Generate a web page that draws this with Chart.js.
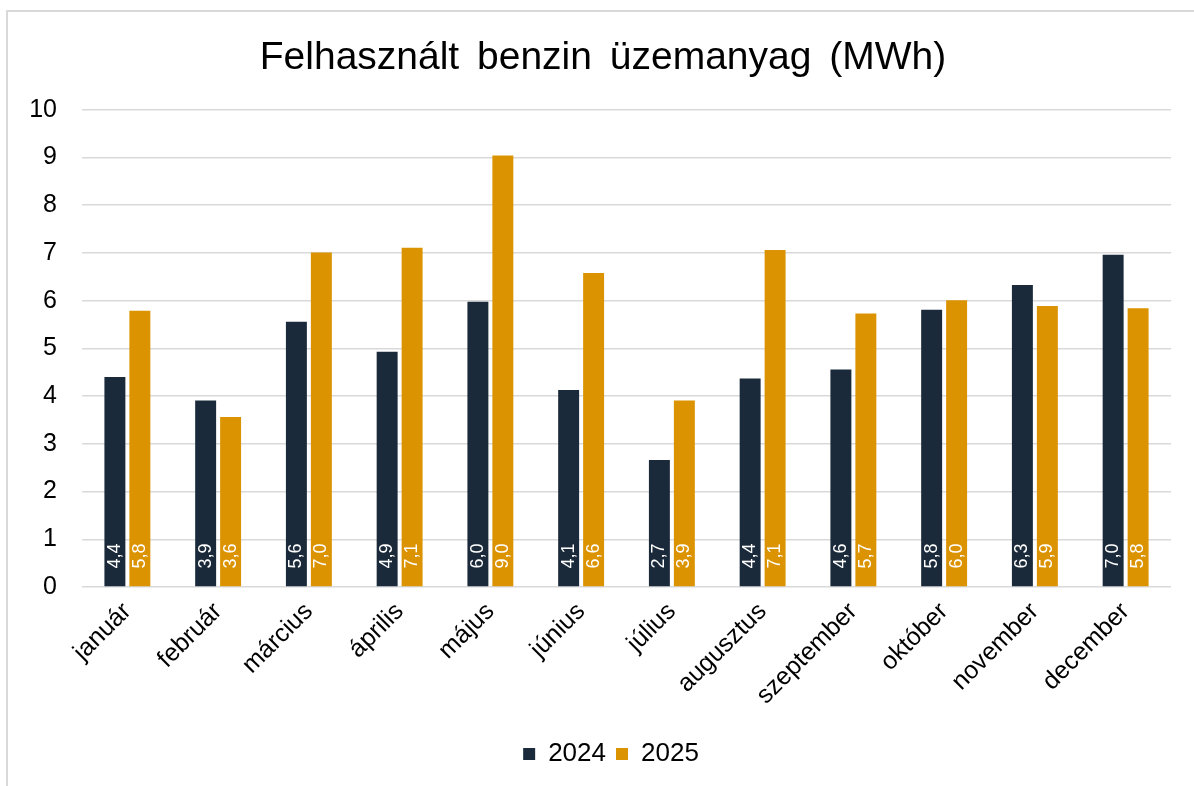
<!DOCTYPE html>
<html>
<head>
<meta charset="utf-8">
<script src="https://cdn.jsdelivr.net/npm/chart.js@4/dist/chart.umd.min.js"></script>
<style>
  html, body { margin: 0; padding: 0; background: #ffffff; }
  #wrap { position: relative; width: 1194px; height: 786px; }
</style>
</head>
<body>
<div id="wrap"><canvas id="c" width="1194" height="786"></canvas></div>
<script>
const chartTitle = 'Felhasznált benzin üzemanyag (MWh)';
const categories = ['január', 'február', 'március', 'április', 'május', 'június', 'július', 'augusztus', 'szeptember', 'október', 'november', 'december'];
const seriesNames = ['2024', '2025'];
const values2024 = [4.40, 3.91, 5.56, 4.93, 5.98, 4.13, 2.66, 4.37, 4.56, 5.81, 6.33, 6.96];
const values2025 = [5.79, 3.56, 7.01, 7.11, 9.04, 6.58, 3.91, 7.06, 5.73, 6.01, 5.89, 5.84];
const yMin = 0, yMax = 10, yStep = 1;

const FONT = '"Liberation Sans", Arial, sans-serif';
const COLORS = ['#1b2a3a', '#dc9302'];

const framePlugin = {
  id: 'frame',
  afterLayout(chart) {
    // centre title and legend like the original (slightly right of canvas centre)
    if (chart.titleBlock) chart.titleBlock.left += 25;
    if (chart.legend) chart.legend.left += 41;
  },
  beforeDraw(chart) {
    const ctx = chart.ctx;
    ctx.fillStyle = '#ffffff';
    ctx.fillRect(0, 0, chart.width, chart.height);
    ctx.save();
    ctx.strokeStyle = '#d9d9d9';
    ctx.lineWidth = 2;
    ctx.beginPath();
    ctx.moveTo(7, chart.height);
    ctx.lineTo(7, 11);
    ctx.lineTo(chart.width, 11);
    ctx.stroke();
    ctx.restore();
    // wider word gaps, as in the original title (only the title has spaces)
    if ('wordSpacing' in ctx) ctx.wordSpacing = '7px';
  }
};

const barLabelPlugin = {
  id: 'barLabels',
  afterDatasetsDraw(chart) {
    const ctx = chart.ctx;
    const yScale = chart.scales.y;
    const base = yScale.getPixelForValue(0);
    ctx.save();
    ctx.fillStyle = '#ffffff';
    ctx.font = '18px ' + FONT;
    ctx.textAlign = 'left';
    ctx.textBaseline = 'middle';
    chart.data.datasets.forEach((ds, di) => {
      const meta = chart.getDatasetMeta(di);
      meta.data.forEach((bar, i) => {
        const v = ds.data[i];
        const txt = v.toFixed(1).replace('.', ',');
        ctx.save();
        ctx.translate(bar.x, base - 18.5);
        ctx.rotate(-Math.PI / 2);
        ctx.fillText(txt, 0, 0);
        ctx.restore();
      });
    });
    ctx.restore();
  }
};

new Chart(document.getElementById('c'), {
  type: 'bar',
  data: {
    labels: categories,
    datasets: [
      { label: seriesNames[0], data: values2024, backgroundColor: COLORS[0], borderWidth: 0, categoryPercentage: 0.55, barPercentage: 0.84 },
      { label: seriesNames[1], data: values2025, backgroundColor: COLORS[1], borderWidth: 0, categoryPercentage: 0.55, barPercentage: 0.84 }
    ]
  },
  options: {
    responsive: false,
    animation: false,
    devicePixelRatio: 1,
    layout: { padding: { left: 10, right: 23, top: 0, bottom: 9 } },
    plugins: {
      title: {
        display: true,
        text: chartTitle,
        color: '#000000',
        font: { family: FONT, size: 39, weight: 'normal' },
        padding: { top: 35, bottom: 28 }
      },
      legend: {
        display: true,
        position: 'bottom',
        labels: {
          color: '#000000',
          font: { family: FONT, size: 26 },
          boxWidth: 12,
          boxHeight: 12,
          padding: 10
        }
      },
      tooltip: { enabled: false }
    },
    scales: {
      x: {
        grid: { display: false },
        border: { display: false },
        ticks: {
          color: '#000000',
          font: { family: FONT, size: 25 },
          maxRotation: 45,
          minRotation: 45,
          padding: 2
        },
        afterFit(scale) { scale.height = 144; }
      },
      y: {
        min: yMin,
        max: yMax,
        grid: { color: '#d9d9d9', lineWidth: 1.5, drawTicks: false },
        border: { display: false },
        ticks: {
          stepSize: yStep,
          color: '#000000',
          font: { family: FONT, size: 25 },
          padding: 25
        },
        afterFit(scale) { scale.width = 72; }
      }
    }
  },
  plugins: [framePlugin, barLabelPlugin]
});
</script>
</body>
</html>
